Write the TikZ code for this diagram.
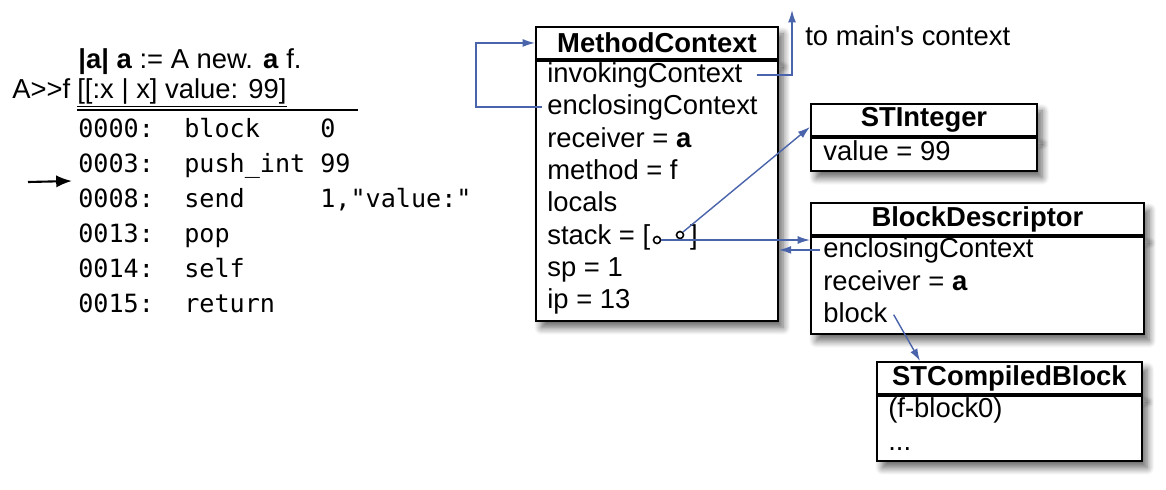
\documentclass[tikz,border=0pt]{standalone}
\usepackage{fontspec}
\setmainfont{Liberation Sans}
\setmonofont{DejaVu Sans Mono}
\usetikzlibrary{arrows.meta,shadows.blur}
\definecolor{linkblue}{HTML}{4A64AC}

\begin{document}
\begin{tikzpicture}[x=0.02cm,y=-0.02cm,
    every node/.style={inner sep=0pt,font=\fontsize{15.6}{18}\selectfont},
    objshadow/.style={blur shadow={shadow xshift=3pt,shadow yshift=-4pt,shadow blur steps=10,shadow blur radius=4pt,shadow opacity=60}},
    objhead/.style={draw,line width=1.1pt,fill=white,objshadow,anchor=north west,minimum height=0.64cm,font=\fontsize{15.6}{18}\selectfont\bfseries},
    objbody/.style={draw,line width=1.1pt,fill=white,objshadow,anchor=north west},
    field/.style={anchor=base west},
    code/.style={anchor=base west,font=\fontsize{14.3}{17}\selectfont\ttfamily},
    slot/.style={draw,circle,line width=0.9pt,minimum size=4pt},
    link/.style={draw=linkblue,line width=0.8pt,-{Latex[length=7pt,width=4.5pt]}}]
    \useasboundingbox (0,0) rectangle (1166,490);

    % source and bytecode
    \node[field] (prog) at (78,68) {\textbf{|a|} \textbf{a} := A new. \textbf{a} f.};
    \node[field] (sel) at (12,98) {A>{}>f};
    \node[field] (blk) at (77,98) {\underline{[[:x | x] value: 99]}};
    \draw[line width=1.2pt] (77,110) -- (358,110);
    \foreach \addr/\op/\arg [count=\i] in {0000/block/0, 0003/push\_int/99, 0008/send/{1,"value:"}, 0013/pop/, 0014/self/, 0015/return/} {
        \node[code] (addr\i) at (78,{137+35*(\i-1)}) {\addr:};
        \node[code] (op\i) at (184,{137+35*(\i-1)}) {\op};
        \node[code] (arg\i) at (320,{137+35*(\i-1)}) {\arg};
    }
    \coordinate (pc) at (28,182);
    \draw[line width=1.2pt,-{Latex[length=9pt,width=7pt]}] (pc) -- ([xshift=-0.12cm,yshift=0.14cm]addr3.north west);

    % MethodContext
    \node[objhead,minimum width=4.84cm] (mcHead) at (535,26) {MethodContext};
    \node[objbody,minimum width=4.84cm,minimum height=5.2cm] (mcBody) at (mcHead.south west) {};
    \node[field] (mcInv) at (547,82) {invokingContext};
    \node[field] (mcEnc) at (547,114) {enclosingContext};
    \node[field] (mcRecv) at (547,147) {receiver = \textbf{a}};
    \node[field] (mcMeth) at (547,179) {method = f};
    \node[field] (mcLoc) at (547,211) {locals};
    \node[field] (mcStack) at (547,244) {stack = [\hspace{0.8cm}]};
    \node[slot] (slot1) at (657,240) {};
    \node[slot] (slot2) at (680,235) {};
    \node[field] (mcSp) at (547,276) {sp = 1};
    \node[field] (mcIp) at (547,308) {ip = 13};

    % STInteger
    \node[objhead,minimum width=4.52cm] (siHead) at (810,103) {STInteger};
    \node[objbody,minimum width=4.52cm,minimum height=0.66cm] (siBody) at (siHead.south west) {};
    \node[field] (siVal) at (823,160) {value = 99};

    % BlockDescriptor
    \node[objhead,minimum width=6.66cm] (bdHead) at (810,202) {BlockDescriptor};
    \node[objbody,minimum width=6.66cm,minimum height=1.94cm] (bdBody) at (bdHead.south west) {};
    \node[field] (bdEnc) at (823,257) {enclosingContext};
    \node[field] (bdRecv) at (823,290) {receiver = \textbf{a}};
    \node[field] (bdBlock) at (823,322) {block};

    % STCompiledBlock
    \node[objhead,minimum width=5.3cm] (cbHead) at (876,361) {STCompiledBlock};
    \node[objbody,minimum width=5.3cm,minimum height=1.3cm] (cbBody) at (cbHead.south west) {};
    \node[field] (cbName) at (888,417) {(f-block0)};
    \node[field] (cbMore) at (888,450) {...};

    % links
    \coordinate (mainCtx) at (792,10);
    \node[field] (mainLbl) at (805,45) {to main\textquotesingle s context};
    \draw[link] ([xshift=0.28cm]mcInv.east) -| (mainCtx);
    \draw[link] ([xshift=-0.1cm]mcEnc.west) -- ++(-66,0) |- (mcHead.west);
    \draw[link] (slot2.north east) -- ([yshift=0.2cm]siHead.south west);
    \draw[link] (slot1.east) -- (slot1 -| bdBody.west);
    \draw[link] ([xshift=-0.06cm]bdEnc.west) -- (bdEnc.west -| mcBody.east);
    \draw[link] ([xshift=0.12cm,yshift=-0.05cm]bdBlock.east) -- ([xshift=0.88cm]cbHead.north west);
\end{tikzpicture}
\end{document}
